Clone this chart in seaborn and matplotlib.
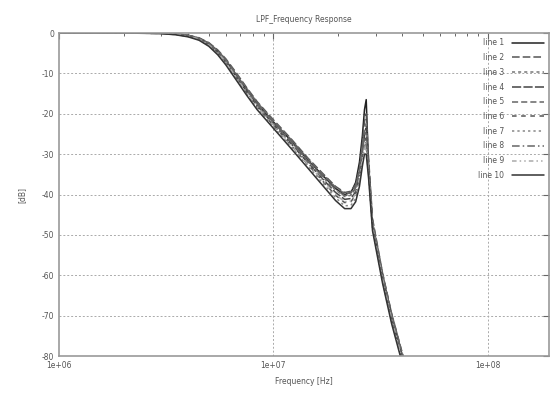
import matplotlib
matplotlib.use("Agg")
import matplotlib.pyplot as plt
import seaborn as sns
import pandas as pd
from matplotlib.ticker import LogLocator, FixedLocator, NullFormatter

title = "LPF_Frequency Response"
x_label = "Frequency [Hz]"
y_label = "[dB]"
x_ticks = [1e6, 1e7, 1e8]
x_tick_labels = ["1e+06", "1e+07", "1e+08"]
y_ticks = [0, -10, -20, -30, -40, -50, -60, -70, -80]

freq = [1e6, 2e6, 3e6, 3.5e6, 4e6, 4.5e6, 5e6, 5.5e6, 6e6, 6.7e6, 7.5e6, 8.4e6,
        1.0e7, 1.2e7, 1.45e7, 1.7e7, 1.95e7, 2.15e7, 2.3e7, 2.42e7, 2.52e7,
        2.6e7, 2.66e7, 2.71e7, 2.78e7, 2.9e7, 3.23e7, 3.56e7, 4.0e7, 4.2e7]

line1 = [0, 0, -0.05, -0.25, -0.6, -1.3, -2.6, -4.5, -6.8, -10.3, -14, -17.5, -22, -26.5, -31.5, -35.3, -38.5, -40, -39.5, -37, -32, -25.5, -19, -16.5, -33, -47, -60, -70, -80, -84]
line2 = [0, 0, -0.05, -0.2, -0.55, -1.2, -2.4, -4.2, -6.4, -9.8, -13.5, -17, -21.5, -26, -31, -34.8, -38, -39.5, -39.2, -37.5, -33.5, -27.5, -22, -20, -31, -46, -59.5, -69.5, -79.5, -83.5]
line3 = [0, 0, -0.05, -0.25, -0.65, -1.35, -2.7, -4.6, -6.9, -10.5, -14.2, -17.7, -22.3, -26.8, -31.8, -35.7, -38.9, -40.5, -40.2, -38.5, -34.5, -29, -24, -22, -32, -47, -60, -70, -80, -84]
line4 = [0, 0, -0.1, -0.3, -0.7, -1.45, -2.85, -4.8, -7.1, -10.8, -14.5, -18, -22.6, -27.2, -32.2, -36.2, -39.5, -41.2, -41, -39.3, -35, -29.5, -25.5, -23.5, -33, -47.5, -60.5, -70.5, -80.5, -84.5]
line5 = [0, 0, -0.05, -0.2, -0.55, -1.25, -2.5, -4.35, -6.6, -10, -13.7, -17.2, -21.7, -26.2, -31.2, -35, -38.2, -39.8, -39.6, -38, -34, -28.5, -24.5, -25, -33, -46.5, -59.5, -69.5, -79.5, -83.5]
line6 = [0, 0, -0.1, -0.35, -0.8, -1.55, -3, -5, -7.3, -11, -14.8, -18.3, -22.9, -27.6, -32.6, -36.7, -40.2, -42, -41.8, -40, -36, -30.5, -27, -26, -34, -48, -61, -71, -81, -85]
line7 = [0, 0, -0.1, -0.4, -0.85, -1.65, -3.1, -5.2, -7.6, -11.3, -15.1, -18.6, -23.2, -28, -33, -37.2, -40.8, -42.8, -42.7, -41, -37, -31.5, -28, -27, -35, -48.5, -61.5, -71.5, -81.5, -85.5]
line8 = [0, 0, -0.05, -0.25, -0.6, -1.3, -2.65, -4.5, -6.8, -10.4, -14.1, -17.6, -22.1, -26.7, -31.7, -35.5, -38.8, -40.3, -40, -38.3, -34.5, -29, -26, -28, -34, -47, -60, -70, -80, -84]
line9 = [0, 0, -0.1, -0.3, -0.75, -1.5, -2.95, -4.9, -7.2, -10.9, -14.7, -18.2, -22.8, -27.5, -32.5, -36.5, -40, -41.8, -41.6, -39.8, -36, -31, -28.5, -29, -35, -48, -61, -71, -81, -85]
line10 = [0, 0, -0.15, -0.45, -0.95, -1.8, -3.3, -5.4, -7.9, -11.6, -15.4, -19, -23.6, -28.4, -33.5, -37.8, -41.5, -43.5, -43.5, -41.8, -38, -33, -30, -30, -36, -49, -62, -72, -82, -86]

series_names = ["line 1", "line 2", "line 3", "line 4", "line 5",
                "line 6", "line 7", "line 8", "line 9", "line 10"]
series_values = [line1, line2, line3, line4, line5, line6, line7, line8, line9, line10]

colors = ["#222222", "#555555", "#777777", "#444444", "#666666",
          "#555555", "#888888", "#666666", "#aaaaaa", "#333333"]
dashes = ["-", (0, (5, 2)), (0, (2, 2)), (0, (6, 1.5)), (0, (4, 2)),
          (0, (3, 3)), (0, (1.5, 2)), (0, (5, 2, 1, 2)), (0, (3, 2, 1, 2, 1, 2)), "-"]

sns.set_theme(style="white")
plt.rcParams["font.family"] = ["DejaVu Sans"]

fig = plt.figure(figsize=(5.52, 3.94), dpi=100)
ax = fig.add_axes([59 / 552, 1 - 356 / 394, (549 - 59) / 552, (356 - 33) / 394])

for name, vals, c, d in zip(series_names, series_values, colors, dashes):
    df = pd.DataFrame({"f": freq, "db": vals})
    sns.lineplot(data=df, x="f", y="db", ax=ax, color=c, linewidth=1.1,
                 linestyle=d, label=name)

ax.set_xscale("log")
ax.set_xlim(1e6, 1.93e8)
ax.set_ylim(-80, 0)

ax.xaxis.set_major_locator(FixedLocator(x_ticks))
ax.set_xticklabels(x_tick_labels)
ax.xaxis.set_minor_locator(LogLocator(base=10, subs=[2, 3, 4, 5, 6, 7, 8, 9]))
ax.xaxis.set_minor_formatter(NullFormatter())
ax.set_yticks(y_ticks)
ax.set_yticklabels([str(v) for v in y_ticks])

ax.tick_params(axis="both", which="both", direction="in", top=True, right=True,
               colors="#666666", labelcolor="#555555", labelsize=5.5)
ax.tick_params(which="major", length=4, width=0.8)
ax.tick_params(which="minor", length=2.5, width=0.7)

for v in y_ticks[1:-1]:
    ax.axhline(v, color="#aaaaaa", linestyle=(0, (2, 2)), linewidth=0.7, zorder=0)
for v in [1e7, 1e8]:
    ax.axvline(v, color="#aaaaaa", linestyle=(0, (2, 2)), linewidth=0.7, zorder=0)

for sp in ax.spines.values():
    sp.set_color("#999999")
    sp.set_linewidth(1.2)

ax.set_title(title, fontsize=5.5, color="#555555", pad=8)
ax.set_xlabel(x_label, fontsize=5.5, color="#555555", labelpad=5)
ax.set_ylabel(y_label, fontsize=5.5, color="#555555", labelpad=11)

leg = ax.legend(loc="upper right", frameon=False, fontsize=5.5, markerfirst=False,
                handlelength=4.2, labelspacing=0.75, borderaxespad=0.3,
                handletextpad=1.0)
for t in leg.get_texts():
    t.set_color("#555555")
    t.set_ha("right")

fig.savefig("out.png", dpi=100)
